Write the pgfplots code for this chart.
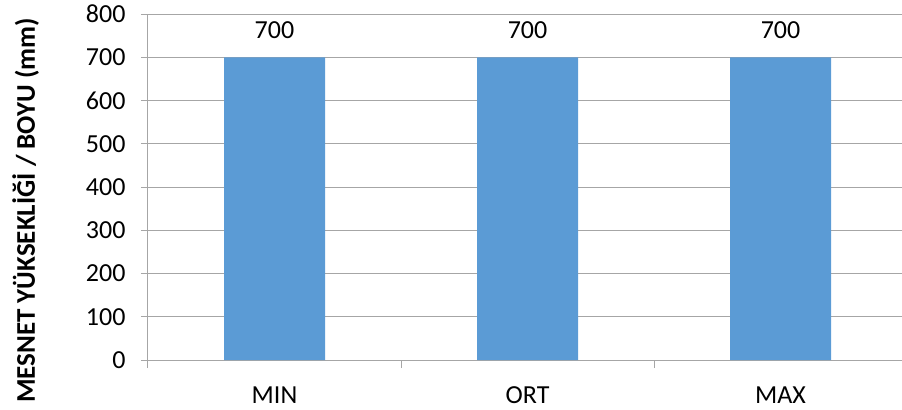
\documentclass[border=0pt]{standalone}
\usepackage{fontspec}
\setmainfont{Carlito}
\usepackage{pgfplots}
\pgfplotsset{compat=1.18}
\definecolor{barblue}{HTML}{5B9BD5}
\definecolor{linegray}{HTML}{A6A6A6}
\newcommand{\lbl}{\fontsize{26bp}{31bp}\selectfont}
\begin{document}
\begin{tikzpicture}
\useasboundingbox (-148bp,-50bp) rectangle (754bp,360bp);
\begin{axis}[%
width=754bp,
height=346bp,
scale only axis,
xmin=-0.5,
xmax=2.48,
ymin=0,
ymax=800,
ytick={0,100,...,800},
xtick={0,1,2},
xticklabels={MIN,ORT,MAX},
minor xtick={-0.5,0.5,1.5},
major x tick style={draw=none},
axis x line=bottom,
axis y line=left,
axis line style={draw=linegray, line width=1bp, -},
ymajorgrids,
grid style={draw=linegray, line width=1bp},
tick align=outside,
major tick length=7bp,
minor tick length=8bp,
tick style={draw=linegray, line width=1bp},
tick label style={font=\lbl, text=black},
/pgf/number format/assume math mode=true,
yticklabel style={xshift=-12bp},
xticklabel style={yshift=-16bp},
ylabel={MESNET YÜKSEKLİĞİ / BOYU (mm)},
ylabel style={at={(axis description cs:-0.1499,0.432)}, anchor=base, font=\fontsize{27bp}{32bp}\selectfont\bfseries},
ybar,
bar width=101bp,
nodes near coords,
every node near coord/.append style={font=\lbl, text=black, yshift=15bp},
]
\addplot[fill=barblue, draw=none] coordinates {(0,700) (1,700) (2,700)};
\end{axis}
\end{tikzpicture}
\end{document}
